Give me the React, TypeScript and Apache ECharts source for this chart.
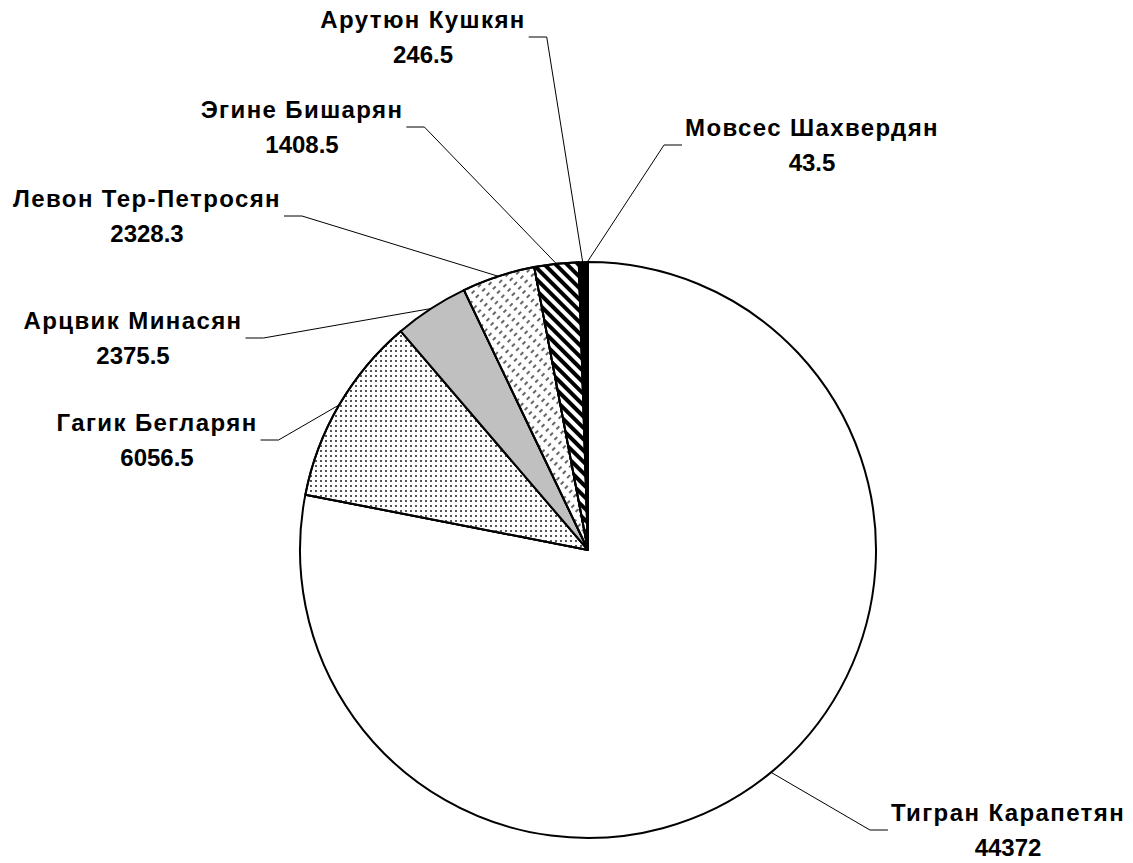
import React, { useEffect, useRef } from "react";
import * as echarts from "echarts";

const names = [
  "Тигран Карапетян",
  "Гагик Бегларян",
  "Арцвик Минасян",
  "Левон Тер-Петросян",
  "Эгине Бишарян",
  "Арутюн Кушкян",
  "Мовсес Шахвердян",
];
const values = [44372, 6056.5, 2375.5, 2328.3, 1408.5, 246.5, 43.5];

// label block centres (layout) and side of the leader line
const labelCenters: [number, number][] = [
  [1008, 830],
  [157, 440],
  [133, 338],
  [147, 216],
  [302, 127],
  [423, 37],
  [812, 145],
];
const labelSides = ["right", "left", "left", "left", "left", "left", "right"];

const FONT = "'Liberation Sans', Arial, sans-serif";
const NAME_SPACING = 1.4;

const styles: any[] = [
  { color: "#ffffff" },
  {
    color: "#ffffff",
    decal: {
      symbol: "rect",
      symbolSize: 1,
      color: "#555555",
      dashArrayX: [1.5, 2.5],
      dashArrayY: [1.5, 2.5],
      rotation: 0,
    },
  },
  { color: "#c0c0c0" },
  {
    color: "#ffffff",
    decal: {
      symbol: "rect",
      symbolSize: 1,
      color: "#666666",
      dashArrayX: [3.5, 4.5],
      dashArrayY: [1.4, 3.6],
      rotation: -Math.PI / 4,
    },
  },
  {
    color: "#ffffff",
    decal: {
      symbol: "rect",
      symbolSize: 1,
      color: "#000000",
      dashArrayX: [1, 0],
      dashArrayY: [3.2, 4],
      rotation: Math.PI / 4,
    },
  },
  { color: "#000000" },
  { color: "#ffffff" },
];

export default function App() {
  const ref = useRef<HTMLDivElement>(null);
  useEffect(() => {
    if (!ref.current) return;
    const root = ref.current;
    const chart = echarts.init(root, undefined, { renderer: "svg" });
    const data = names.map((n, i) => ({
      name: n,
      value: values[i],
      itemStyle: styles[i],
    }));
    chart.setOption({
      animation: false,
      backgroundColor: "#ffffff",
      series: [
        {
          type: "pie",
          center: [588, 550],
          radius: 288,
          startAngle: 90,
          clockwise: true,
          avoidLabelOverlap: false,
          minShowLabelAngle: 0,
          silent: true,
          itemStyle: { borderColor: "#000", borderWidth: 2 },
          label: {
            show: true,
            formatter: (p: any) => p.name + "\n" + p.value,
            fontFamily: FONT,
            fontSize: 24,
            fontWeight: "bold",
            color: "#000",
            lineHeight: 35,
            align: "center",
            overflow: "none",
          },
          labelLine: {
            show: true,
            length: 10,
            length2: 10,
            lineStyle: { color: "#000", width: 1 },
          },
          labelLayout: (params: any) => {
            const i = params.dataIndex;
            const [cx, cy] = labelCenters[i];
            const w = params.labelRect.width + names[i].length * NAME_SPACING;
            const anchor = params.labelLinePoints
              ? params.labelLinePoints[0]
              : [588, 262];
            let end: number[], bend: number[];
            if (labelSides[i] === "left") {
              end = [cx + w / 2 + 3, cy];
              bend = [cx + w / 2 + 21, cy];
            } else {
              end = [cx - w / 2 - 3, cy];
              bend = [cx - w / 2 - 21, cy];
            }
            return {
              x: cx,
              y: cy,
              align: "center",
              verticalAlign: "middle",
              labelLinePoints: [anchor, bend, end],
            };
          },
          data,
        },
      ],
    });
    const spaceNames = () => {
      root.querySelectorAll("text").forEach((t) => {
        const s = (t.textContent || "").trim();
        if (names.indexOf(s) >= 0) {
          (t as SVGTextElement).style.letterSpacing = NAME_SPACING + "px";
        }
      });
    };
    spaceNames();
    chart.on("finished", spaceNames);
    const timer = setTimeout(spaceNames, 50);
    return () => {
      clearTimeout(timer);
      chart.dispose();
    };
  }, []);
  return (
    <div
      ref={ref}
      style={{ position: "fixed", left: 0, top: 0, width: 1133, height: 863 }}
    />
  );
}
